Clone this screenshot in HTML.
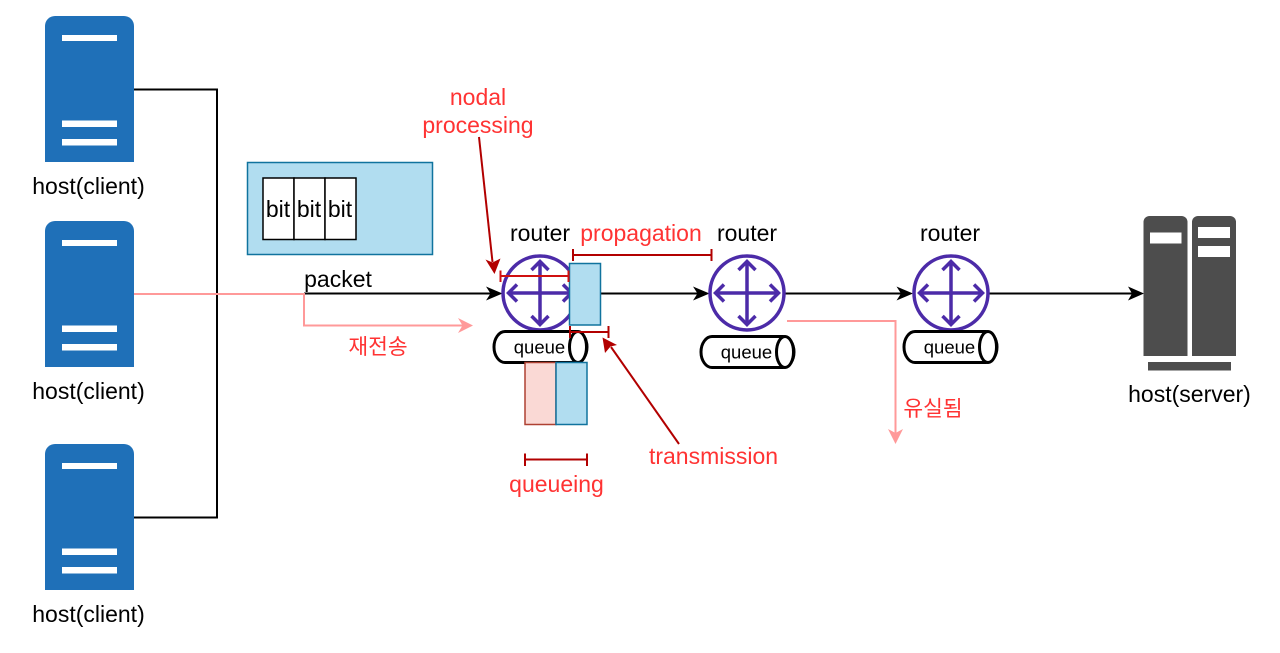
<!DOCTYPE html>
<html><head><meta charset="utf-8">
<style>
html,body{margin:0;padding:0;background:#fff;width:1280px;height:653px;overflow:hidden}
svg{display:block}
text{font-family:"Liberation Sans","Noto Sans CJK KR",sans-serif;font-size:23px;fill:#000;text-anchor:middle}
.r{fill:#ff3333}
.k{font-size:21.500px}
.q{font-size:18.500px}
</style></head><body>
<svg width="1280" height="653" viewBox="0 0 1280 653" xmlns="http://www.w3.org/2000/svg">
<defs>
<g id="host">
<path d="M45 162V26a10 10 0 0 1 10-10h69a10 10 0 0 1 10 10V162Z" fill="#1f70b8"/>
<rect x="62" y="35" width="55" height="6" fill="#fff"/>
<rect x="62" y="120.500" width="55" height="6.500" fill="#fff"/>
<rect x="62" y="139" width="55" height="6.500" fill="#fff"/>
</g>
<g id="router" fill="none" stroke="#4c2ba8">
<circle cx="0" cy="0" r="37" fill="#fff" stroke-width="3.500"/>
<path d="M0-31V31M-31 0H31" stroke-width="3.500"/>
<path d="M-8.500-23L0-31.500L8.500-23M-8.500 23L0 31.500L8.500 23M-23-8.500L-31.500 0L-23 8.500M23-8.500L31.500 0L23 8.500" stroke-width="3.500"/>
</g>
<g id="queue">
<path d="M11 0H82C88 0 93 7 93 15.500S88 31 82 31H11C5 31 0 24 0 15.500S5 0 11 0Z" fill="#fff" stroke="#000" stroke-width="3"/>
<ellipse cx="84" cy="15.500" rx="8.500" ry="15.500" fill="#fff" stroke="#000" stroke-width="3"/>
<text class="q" x="45.500" y="22">queue</text>
</g>
</defs>

<!-- connectors -->
<path d="M134 89.500H217V517.500H134" fill="none" stroke="#000" stroke-width="2"/>
<path d="M304 293.500H493" fill="none" stroke="#000" stroke-width="2"/>
<path d="M502.500 293.500L486 286.500L490.500 293.500L486 300.500Z" fill="#000"/>
<path d="M134 294H304V325.500H463" fill="none" stroke="#ff9999" stroke-width="2"/>
<path d="M473 325.500L458 318L462.500 325.500L458 333Z" fill="#ff9999"/>
<path d="M575 293.500H700" fill="none" stroke="#000" stroke-width="2"/>
<path d="M709.500 293.500L693 286.500L697.500 293.500L693 300.500Z" fill="#000"/>
<path d="M780 293.500H905" fill="none" stroke="#000" stroke-width="2"/>
<path d="M913 293.500L896.500 286.500L901 293.500L896.500 300.500Z" fill="#000"/>
<path d="M985 293.500H1135" fill="none" stroke="#000" stroke-width="2"/>
<path d="M1144 293.500L1128 286.500L1132 293.500L1128 300.500Z" fill="#000"/>

<!-- hosts -->
<use href="#host"/>
<use href="#host" y="205"/>
<use href="#host" y="428"/>
<text x="88.500" y="194">host(client)</text>
<text x="88.500" y="399">host(client)</text>
<text x="88.500" y="622">host(client)</text>

<!-- packet -->
<rect x="247.500" y="162.500" width="185" height="92" fill="#b1ddf0" stroke="#10739e" stroke-width="1.500"/>
<rect x="263" y="178" width="31" height="61.500" fill="#fff" stroke="#000" stroke-width="1.500"/>
<rect x="294" y="178" width="31" height="61.500" fill="#fff" stroke="#000" stroke-width="1.500"/>
<rect x="325" y="178" width="31" height="61.500" fill="#fff" stroke="#000" stroke-width="1.500"/>
<text x="278" y="217">bit</text>
<text x="309" y="217">bit</text>
<text x="340" y="217">bit</text>
<text x="338" y="287">packet</text>
<text class="r k" x="378" y="354">재전송</text>

<!-- routers -->
<use href="#router" x="540" y="293"/>
<use href="#router" x="747" y="293"/>
<use href="#router" x="951" y="293"/>
<text x="540" y="241">router</text>
<text x="747" y="241">router</text>
<text x="950" y="241">router</text>

<!-- queues -->
<use href="#queue" x="494" y="331.500"/>
<use href="#queue" x="701" y="336.500"/>
<use href="#queue" x="904" y="331.500"/>

<!-- packets in flight -->
<rect x="569.500" y="263.500" width="31" height="61.500" fill="#b1ddf0" stroke="#10739e" stroke-width="1.500"/>
<rect x="525" y="362.500" width="31" height="62" fill="#fad9d5" stroke="#ae4132" stroke-width="1.500"/>
<rect x="556" y="362.500" width="31" height="62" fill="#b1ddf0" stroke="#10739e" stroke-width="1.500"/>

<!-- pink loss -->
<path d="M787 321H895.500V433" fill="none" stroke="#ff9999" stroke-width="2"/>
<path d="M895.500 444L888 429L895.500 433L903 429Z" fill="#ff9999"/>
<text class="r k" x="933" y="416">유실됨</text>

<!-- dimension marks -->
<g fill="none" stroke="#b20000" stroke-width="2">
<path d="M500.500 276H568.500M500.500 270.500V282M568.500 270.500V282" stroke="#d01010"/>
<path d="M573 255H711.500M573 249V261M711.500 249V261"/>
<path d="M570 332H608.500M570 326V338M608.500 326V338"/>
<path d="M525 459.500H587M525 453.500V466M587 453.500V466"/>
<path d="M479 137L492.500 262"/>
<path d="M679 444L611 347"/>
</g>
<path d="M494.500 274L485.500 259.500L492.500 262.500L500.500 258.500Z" fill="#b20000"/>
<path d="M602.500 337.500L617 345L610.500 346.500L605 353Z" fill="#b20000"/>

<!-- red labels -->
<text class="r" x="478" y="105">nodal</text>
<text class="r" x="478" y="133">processing</text>
<text class="r" x="641" y="241">propagation</text>
<text class="r" x="713.500" y="464">transmission</text>
<text class="r" x="556.500" y="492">queueing</text>

<!-- server -->
<g fill="#4d4d4d">
<path d="M1143.500 356V222a6 6 0 0 1 6-6h32a6 6 0 0 1 6 6V356Z"/>
<path d="M1192 356V222a6 6 0 0 1 6-6h32a6 6 0 0 1 6 6V356Z"/>
<rect x="1148" y="362" width="83" height="8.500"/>
</g>
<rect x="1150" y="232.500" width="31.500" height="11" fill="#fff"/>
<rect x="1198" y="227" width="32" height="11" fill="#fff"/>
<rect x="1198" y="246" width="32" height="11" fill="#fff"/>
<text x="1189.500" y="402">host(server)</text>
</svg>
</body></html>
